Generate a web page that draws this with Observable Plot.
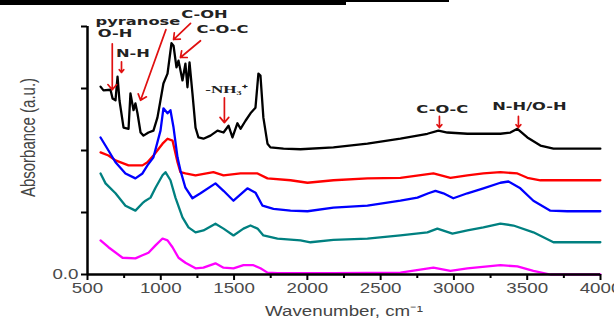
<!DOCTYPE html>
<html>
<head>
<meta charset="utf-8">
<script src="https://cdn.jsdelivr.net/npm/d3@7"></script>
<script src="https://cdn.jsdelivr.net/npm/@observablehq/plot@0.6"></script>
<style>
  html, body { margin: 0; padding: 0; background: #fff; }
  #wrap { position: relative; width: 614px; height: 327px; overflow: hidden; }
  .bar1 { position: absolute; left: 0; top: 0; width: 346px; height: 5px; background: #000; z-index: 2; }
  .bar2 { position: absolute; left: 346px; top: 0; width: 103px; height: 1.5px; background: #000; z-index: 2; }
</style>
</head>
<body>
<div id="wrap"><div class="bar1"></div><div class="bar2"></div></div>
<script>
// Wavenumber (cm^-1) and absorbance (a.u., offset spectra)
const blackX = [589,609,657,671,691,705,718,746,780,793,814,827,841,862,882,916,950,977,998,1018,1046,1073,1087,1107,1121,1148,1168,1182,1196,1216,1237,1257,1291,1339,1387,1428,1462,1489,1523,1544,1578,1612,1646,1666,1680,1700,1728,1748,1837,1953,2178,2410,2635,2819,2894,2955,3092,3317,3385,3433,3501,3590,3679,3999];
const blackY = [3.03,2.97,2.98,2.84,2.81,3.19,2.81,2.37,2.35,2.92,2.65,2.76,2.60,2.29,2.24,2.29,2.32,2.53,2.81,3.08,3.24,3.73,3.69,3.34,3.45,3.13,3.40,3.02,3.42,2.92,2.37,2.21,2.19,2.24,2.32,2.29,2.40,2.21,2.44,2.35,2.48,2.60,2.69,3.24,3.21,2.53,2.11,2.05,2.03,2.02,2.05,2.11,2.19,2.27,2.32,2.29,2.27,2.27,2.29,2.35,2.21,2.08,2.03,2.03];

const redX = [589,643,691,780,875,909,950,1012,1046,1080,1114,1134,1168,1237,1359,1428,1544,1660,1728,1885,2001,2178,2410,2635,2860,2976,3092,3201,3317,3433,3501,3590,3774,3999];
const redY = [1.97,1.92,1.84,1.76,1.76,1.81,1.92,2.11,2.19,2.16,1.81,1.65,1.63,1.60,1.65,1.60,1.63,1.63,1.55,1.52,1.48,1.52,1.55,1.56,1.63,1.56,1.60,1.63,1.65,1.63,1.56,1.52,1.52,1.52];

const blueX = [589,643,691,759,827,875,909,950,998,1018,1046,1066,1087,1114,1134,1168,1216,1271,1373,1428,1496,1591,1646,1694,1769,1885,2001,2178,2410,2635,2751,2826,2874,2928,2996,3092,3201,3317,3372,3453,3542,3658,3774,3999];
const blueY = [2.21,2.00,1.81,1.63,1.55,1.63,1.76,1.89,2.32,2.68,2.60,2.65,2.37,1.89,1.68,1.40,1.23,1.31,1.47,1.35,1.19,1.39,1.32,1.11,1.06,1.03,1.02,1.08,1.11,1.19,1.24,1.31,1.35,1.31,1.23,1.31,1.39,1.48,1.50,1.39,1.19,1.03,1.02,1.02];

const tealX = [589,623,691,759,827,875,896,930,964,1012,1032,1066,1100,1148,1189,1237,1291,1373,1428,1496,1564,1612,1660,1700,1796,1953,2021,2178,2410,2635,2819,2887,2990,3092,3201,3317,3406,3542,3679,3999];
const tealY = [1.63,1.47,1.31,1.11,1.03,1.15,1.19,1.24,1.40,1.60,1.65,1.52,1.24,0.92,0.76,0.68,0.71,0.82,0.74,0.63,0.74,0.79,0.74,0.63,0.58,0.55,0.52,0.56,0.58,0.63,0.68,0.74,0.66,0.71,0.76,0.82,0.79,0.68,0.52,0.52];

const magentaX = [589,643,739,827,875,916,964,1012,1046,1080,1121,1168,1237,1291,1373,1428,1496,1564,1632,1680,1728,1796,2021,2178,2635,2860,2976,3092,3317,3433,3542,3658,3999];
const magentaY = [0.55,0.44,0.27,0.26,0.31,0.35,0.47,0.58,0.55,0.44,0.27,0.19,0.10,0.11,0.18,0.11,0.10,0.15,0.15,0.10,0.03,0.02,0.02,0.02,0.03,0.11,0.06,0.10,0.15,0.13,0.06,0.00,0.00];

const seriesNames = ["black","red","blue","teal","magenta"];
const seriesColors = ["#000000","#ff0000","#0000ff","#23908c","#ff00ff"];

const xMajorTicks = [500,1000,1500,2000,2500,3000,3500,4000];
const xMinorTicks = [750,1250,1750,2250,2750,3250,3750];
const yTicks = [0,1,2,3,4];
const xLabel = "Wavenumber, cm\u207B\u00B9";
const yLabel = "Absorbance (a.u.)";

// Peak annotations: label, label position, arrow start/end (data units)
const annLabels = ["pyranose","O-H","N-H","C-OH","C-O-C","C-O-C","N-H/O-H"];
const annLabelX = [844,688,810,1298,1421,2921,3515];
const annLabelY = [4.08,3.88,3.56,4.19,3.95,2.66,2.71];
const nh3Label = ["-NH\u2083\u207A"];
const nh3X = [1448];
const nh3Y = [2.98];
const arrowX1 = [669,732,1035,1203,1271,1434,2901,3440];
const arrowY1 = [3.72,3.43,3.95,4.05,3.77,2.85,2.55,2.55];
const arrowX2 = [669,732,862,1087,1134,1434,2901,3440];
const arrowY2 = [2.98,3.26,2.81,3.79,3.50,2.45,2.37,2.37];

const allX = [blackX, redX, blueX, tealX, magentaX];
const allY = [blackY, redY, blueY, tealY, magentaY];
const spectra = [];
seriesNames.forEach((s, i) => allX[i].forEach((x, j) => spectra.push({series: s, x, y: allY[i][j]})));
const arrows = arrowX1.map((x1, i) => ({x1, y1: arrowY1[i], x2: arrowX2[i], y2: arrowY2[i]}));
const anns = annLabels.map((t, i) => ({t, x: annLabelX[i], y: annLabelY[i]}));
const nh3 = nh3Label.map((t, i) => ({t, x: nh3X[i], y: nh3Y[i]}));

const chart = Plot.plot({
  width: 614,
  height: 327,
  marginLeft: 87,
  marginRight: 14,
  marginTop: 26,
  marginBottom: 53,
  style: {fontFamily: "'Liberation Sans', Arial, sans-serif", fontSize: "15px", background: "transparent", overflow: "visible", color: "#444"},
  x: {domain: [500, 4000]},
  y: {domain: [0, 4]},
  color: {domain: seriesNames, range: seriesColors},
  marks: [
    Plot.line(spectra, {x: "x", y: "y", z: "series", stroke: "series", strokeWidth: 2.3, strokeLinejoin: "round"}),
    Plot.axisX({ticks: xMinorTicks, tickSize: 4, tickFormat: () => "", stroke: "#000", strokeWidth: 2, label: null}),
    Plot.axisX({ticks: xMajorTicks, tickSize: 6, tickPadding: 2, tickFormat: d => String(d), stroke: "#000", strokeWidth: 2, label: null, fontSize: 15, fill: "#4a4a4a"}),
    Plot.axisY({ticks: yTicks, tickSize: 6, tickPadding: 3, tickFormat: d => d === 0 ? "0.0" : "", stroke: "#000", strokeWidth: 2, label: null, fontSize: 15, fill: "#4a4a4a"}),
    Plot.ruleY([0], {stroke: "#000", strokeWidth: 2.5}),
    Plot.ruleX([500], {stroke: "#000", strokeWidth: 2.5}),
    Plot.arrow(arrows, {x1: "x1", y1: "y1", x2: "x2", y2: "y2", stroke: "#e01010", strokeWidth: 1.7, headLength: 6, headAngle: 80}),
    Plot.text(anns, {x: "x", y: "y", text: "t", fontWeight: "bold", fontSize: 10.5, fontFamily: "'DejaVu Sans', sans-serif", fill: "#222"}),
    Plot.text(nh3, {x: "x", y: "y", text: "t", fontWeight: "bold", fontSize: 11, fontFamily: "'Liberation Serif', serif", fill: "#222"}),
    Plot.text([xLabel], {frameAnchor: "bottom", dy: 41, fontSize: 15, fill: "#444"}),
    Plot.text([yLabel], {frameAnchor: "left", textAnchor: "middle", rotate: -90, dx: -59, dy: -13, fontSize: 15, fill: "#444"})
  ]
});
const wrap = document.getElementById("wrap");
wrap.prepend(chart);
chart.style.position = "absolute";
chart.style.left = "0";
chart.style.top = "0";

// The reference picture is stretched horizontally: widen the texts the same way
const annSet = new Set(annLabels.concat(nh3Label));
chart.querySelectorAll("text").forEach(el => {
  const txt = el.textContent;
  if (!txt) return;
  const b = el.getBBox();
  const cy = b.y + b.height / 2;
  const old = el.getAttribute("transform") || "";
  let t;
  if (txt === yLabel) {
    const cx = b.x + b.width / 2;
    t = `translate(${cx},${cy}) scale(1,1.3) translate(${-cx},${-cy})`;
  } else if (txt === "0.0") {
    const cx = b.x + b.width;
    t = `translate(${cx},${cy}) scale(1.25,1) translate(${-cx},${-cy})`;
  } else {
    const cx = b.x + b.width / 2;
    const s = annSet.has(txt) ? 1.55 : 1.25;
    t = `translate(${cx},${cy}) scale(${s},1) translate(${-cx},${-cy})`;
  }
  el.setAttribute("transform", (old + " " + t).trim());
});
</script>
</body>
</html>
